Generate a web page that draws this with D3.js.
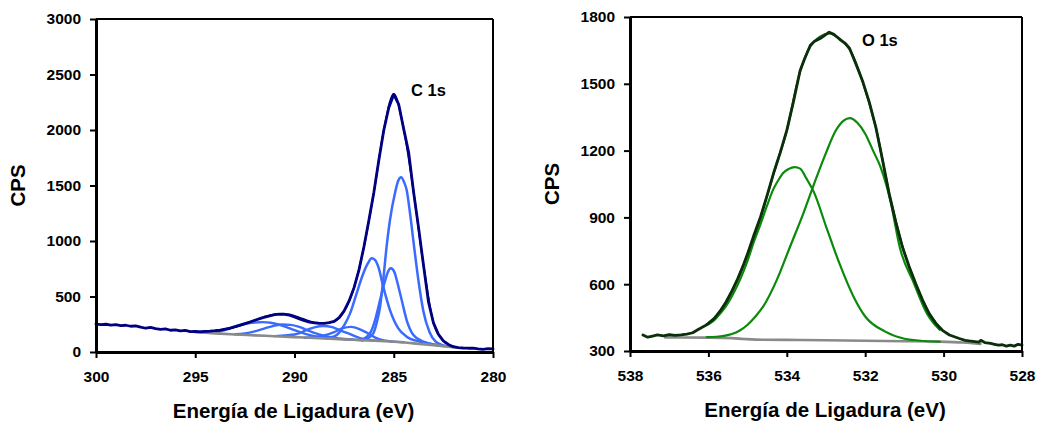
<!DOCTYPE html>
<html><head><meta charset="utf-8">
<script src="https://cdn.jsdelivr.net/npm/d3@7"></script>
<style>
html,body{margin:0;padding:0;background:#fff;}
svg{display:block;}
text{font-family:"Liberation Sans",Arial,Helvetica,sans-serif;font-weight:bold;fill:#000;}
</style></head>
<body>
<svg id="c" width="1037" height="422"></svg>
<script>
// ---------------- C 1s data ----------------
const c1sTicksX = [300, 295, 290, 285, 280];
const c1sTicksY = [0, 500, 1000, 1500, 2000, 2500, 3000];
const c1sRawX = [300.0,299.75,299.5,299.25,299.0,298.75,298.5,298.25,298.0,297.75,297.5,297.25,297.0,296.75,296.5,296.25,296.0,295.75,295.5,295.25,295.0,294.75,294.5,294.25,294.0,293.75,293.5,293.25,293.0,292.75,292.5,292.25,292.0,291.75,291.5,291.25,291.0,290.75,290.5,290.25,290.0,289.75,289.5,289.25,289.0,288.75,288.5,288.25,288.0,287.75,287.5,287.25,287.0,286.75,286.5,286.25,286.0,285.75,285.5,285.25,285.0,284.75,284.5,284.25,284.0,283.75,283.5,283.25,283.0,282.75,282.5,282.25,282.0,281.75,281.5,281.25,281.0,280.75,280.5,280.25,280.0];
const c1sRawY = [252,246,250,243,247,238,241,232,236,224,214,222,210,204,208,196,200,190,194,184,186,182,186,188,192,198,206,216,228,242,256,270,286,300,314,326,336,342,340,332,316,298,282,270,262,258,258,264,276,310,370,460,580,740,950,1190,1440,1730,2000,2200,2320,2230,2010,1800,1440,1120,780,450,262,160,100,68,48,40,36,34,34,28,24,30,28];
const c1sFitX = [295.0,294.0,293.0,292.0,291.5,291.0,290.6,290.2,289.6,289.0,288.5,288.0,287.5,287.0,286.5,286.0,285.5,285.0,284.5,284.0,283.5,283.0,282.5,282.0];
const c1sFitY = [184,190,224,284,318,338,344,336,300,266,260,276,366,582,950,1440,2000,2326,2010,1440,780,262,100,48];
const c1sBgX = [295.0,294.0,293.0,292.0,291.0,290.0,289.0,288.0,287.0,286.0,285.0,284.0,283.0,282.0,281.8];
const c1sBgY = [178,168,158,150,142,134,126,118,110,102,92,78,62,44,40];
const c1sPeakAX = [294.5,294.0,293.5,293.0,292.5,292.0,291.6,291.2,290.8,290.4,290.0,289.5,289.0,288.5,288.0];
const c1sPeakAY = [172,180,198,226,252,266,269,264,248,224,196,166,142,127,119];
const c1sPeakBX = [293.0,292.5,292.0,291.5,291.0,290.6,290.2,289.8,289.4,289.0,288.5,288.0,287.5,287.0];
const c1sPeakBY = [160,168,186,212,238,248,244,228,200,172,146,128,117,111];
const c1sPeakCX = [291.0,290.5,290.0,289.7,289.5,289.0,288.55,288.1,287.7,287.2,286.7,286.2,285.7];
const c1sPeakCY = [143,150,158,172,190,222,234,224,194,160,125,108,100];
const c1sPeakDX = [289.5,289.0,288.5,288.0,287.6,287.15,286.7,286.3,285.9,285.5,285.0,284.5];
const c1sPeakDY = [128,135,150,180,212,226,204,168,128,104,93,88];
const c1sPeakEX = [288.5,288.0,287.75,287.5,287.2,286.87,286.53,286.3,286.11,285.95,285.78,285.53,285.19,284.77,284.35,283.68,283.0,282.5];
const c1sPeakEY = [125,140,175,240,348,529,709,800,844,830,769,589,378,213,138,93,68,55];
const c1sPeakFX = [287.5,286.7,286.2,285.94,285.69,285.44,285.3,285.22,285.14,285.06,284.95,284.85,284.6,284.35,284.01,283.51,282.67];
const c1sPeakFY = [116,108,168,288,468,640,718,745,754,746,712,649,468,288,153,93,60];
const c1sPeakGX = [286.6,286.36,286.03,285.85,285.69,285.53,285.36,285.19,284.94,284.78,284.63,284.48,284.35,284.18,284.01,283.76,283.51,283.2,282.9,282.5,282.0];
const c1sPeakGY = [104,120,168,270,408,649,949,1189,1430,1540,1574,1530,1459,1250,1000,649,370,180,95,60,45];

// ---------------- O 1s data ----------------
const o1sTicksX = [538, 536, 534, 532, 530, 528];
const o1sTicksY = [300, 600, 900, 1200, 1500, 1800];
const o1sRawX = [537.67,537.55,537.45,537.3,537.15,537.0,536.85,536.7,536.55,536.4,536.25,536.1,536.0,535.85,535.7,535.55,535.4,535.25,535.1,535.0,534.85,534.67,534.5,534.34,534.17,534.0,533.83,533.66,533.55,533.4,533.3,533.15,533.05,532.92,532.8,532.65,532.5,532.4,532.25,532.07,531.9,531.73,531.56,531.39,531.22,531.05,530.88,530.71,530.54,530.37,530.2,530.03,529.85,529.6,529.45,529.35,529.2,529.1,529.05,528.95,528.8,528.7,528.6,528.5,528.4,528.3,528.2,528.1,528.0];
const o1sRawY = [372,362,366,372,368,374,370,372,376,382,398,412,424,446,480,520,570,625,690,737,815,902,1000,1097,1190,1291,1420,1560,1610,1673,1690,1703,1715,1732,1722,1700,1680,1660,1595,1514,1420,1306,1160,1007,880,767,680,602,530,468,425,393,372,356,348,345,342,340,348,338,334,330,326,328,322,326,322,330,326];
const o1sFitX = [536.04,535.7,535.4,535.0,534.67,534.34,534.0,533.66,533.4,533.15,532.92,532.65,532.4,532.07,531.73,531.39,531.05,530.71,530.37,530.1];
const o1sFitY = [420,478,566,735,900,1095,1290,1555,1668,1712,1726,1702,1655,1512,1305,1010,770,600,470,400];
const o1sBgX = [537.1,536.04,535.4,535.1,534.8,534.0,533.0,532.0,531.0,530.1,529.5,529.06];
const o1sBgY = [361,360,358,354,351,350,348,346,344,342,338,332];
const o1sPeakAX = [536.04,535.85,535.7,535.55,535.4,535.25,535.1,535.0,534.85,534.67,534.5,534.34,534.17,534.1,533.95,533.8,533.66,533.5,533.3,533.0,532.65,532.3,532.0,531.5,531.0,530.5,530.1];
const o1sPeakAY = [416,438,468,502,546,598,660,706,785,870,955,1028,1080,1098,1118,1126,1119,1075,1010,860,690,545,455,388,355,345,342];
const o1sPeakBX = [536.04,535.8,535.6,535.4,535.2,535.0,534.8,534.6,534.26,533.92,533.58,533.24,533.0,532.75,532.55,532.39,532.2,532.0,531.8,531.62,531.36,531.11,530.77,530.43,530.1];
const o1sPeakBY = [362,364,368,376,392,418,455,500,617,767,917,1081,1190,1290,1335,1346,1325,1276,1200,1131,977,760,610,470,395];

// ---------------- drawing ----------------
const svg = d3.select('#c');

function panel(cfg) {
  const g = svg.append('g');
  const x = d3.scaleLinear().domain(cfg.xDomain).range([cfg.left, cfg.right]);
  const y = d3.scaleLinear().domain(cfg.yDomain).range([cfg.bottom, cfg.top]);
  const zip = (xs, ys) => xs.map((v, i) => [v, ys[i]]);
  const smooth = d3.line().x(d => x(d[0])).y(d => y(d[1])).curve(d3.curveMonotoneX);
  const straight = d3.line().x(d => x(d[0])).y(d => y(d[1]));

  cfg.series.forEach(s => {
    g.append('path')
      .attr('d', (s.smooth ? smooth : straight)(zip(s.x, s.y)))
      .attr('fill', 'none').attr('stroke', s.color).attr('stroke-width', s.w)
      .attr('stroke-linejoin', 'round').attr('stroke-linecap', 'round');
  });

  // frame (top & right)
  g.append('line').attr('x1', cfg.left).attr('x2', cfg.right).attr('y1', cfg.top).attr('y2', cfg.top)
    .attr('stroke', '#000').attr('stroke-width', 2);
  g.append('line').attr('x1', cfg.right).attr('x2', cfg.right).attr('y1', cfg.top).attr('y2', cfg.bottom)
    .attr('stroke', '#000').attr('stroke-width', 2);

  const ax = g.append('g').attr('transform', `translate(0,${cfg.bottom})`)
    .call(d3.axisBottom(x).tickValues(cfg.ticksX).tickSize(6).tickSizeOuter(0).tickPadding(13).tickFormat(d3.format('d')));
  const ay = g.append('g').attr('transform', `translate(${cfg.left},0)`)
    .call(d3.axisLeft(y).tickValues(cfg.ticksY).tickSize(6).tickSizeOuter(0).tickPadding(9).tickFormat(d3.format('d')));
  [ax, ay].forEach(a => {
    a.select('.domain').attr('stroke', '#000').attr('stroke-width', 3);
    a.selectAll('.tick line').attr('stroke', '#000').attr('stroke-width', 2);
    a.selectAll('.tick text').style('font-family', '"Liberation Sans",Arial,sans-serif')
      .style('font-weight', 'bold').style('font-size', '15.5px').attr('fill', '#000');
  });

  g.append('text').attr('transform', `translate(${cfg.yTitleX},${(cfg.top + cfg.bottom) / 2}) rotate(-90)`)
    .attr('text-anchor', 'middle').style('font-size', '20.5px').text('CPS');
  g.append('text').attr('x', (cfg.left + cfg.right) / 2 - 1).attr('y', cfg.xTitleY)
    .attr('text-anchor', 'middle').style('font-size', '20.5px').text('Energía de Ligadura (eV)');
  g.append('text').attr('x', cfg.labelX).attr('y', cfg.labelY)
    .style('font-size', '16.5px').text(cfg.label);
}

const navy = '#000080', blue = '#3a6bff', gray = '#8a8a8a';
panel({
  left: 96, right: 493, top: 19, bottom: 352,
  xDomain: [300, 280], yDomain: [0, 3000],
  ticksX: c1sTicksX, ticksY: c1sTicksY,
  yTitleX: 25, xTitleY: 418, label: 'C 1s', labelX: 411, labelY: 96,
  series: [
    {x: c1sPeakAX, y: c1sPeakAY, color: blue, w: 2.4, smooth: true},
    {x: c1sPeakBX, y: c1sPeakBY, color: blue, w: 2.4, smooth: true},
    {x: c1sPeakCX, y: c1sPeakCY, color: blue, w: 2.4, smooth: true},
    {x: c1sPeakDX, y: c1sPeakDY, color: blue, w: 2.4, smooth: true},
    {x: c1sPeakEX, y: c1sPeakEY, color: blue, w: 2.5, smooth: true},
    {x: c1sPeakFX, y: c1sPeakFY, color: blue, w: 2.5, smooth: true},
    {x: c1sPeakGX, y: c1sPeakGY, color: blue, w: 2.5, smooth: true},
    {x: c1sBgX, y: c1sBgY, color: gray, w: 2.6, smooth: true},
    {x: c1sFitX, y: c1sFitY, color: navy, w: 1.8, smooth: true},
    {x: c1sRawX, y: c1sRawY, color: navy, w: 2.8, smooth: false}
  ]
});

const green = '#0a8a0a', dark = '#0b2e0b', fitG = '#1d5a1d';
panel({
  left: 630, right: 1022, top: 17, bottom: 351,
  xDomain: [538, 528], yDomain: [300, 1800],
  ticksX: o1sTicksX, ticksY: o1sTicksY,
  yTitleX: 559, xTitleY: 417, label: 'O 1s', labelX: 862, labelY: 46,
  series: [
    {x: o1sBgX, y: o1sBgY, color: gray, w: 2.6, smooth: true},
    {x: o1sPeakAX, y: o1sPeakAY, color: green, w: 2.2, smooth: true},
    {x: o1sPeakBX, y: o1sPeakBY, color: green, w: 2.2, smooth: true},
    {x: o1sFitX, y: o1sFitY, color: fitG, w: 2.2, smooth: true},
    {x: o1sRawX, y: o1sRawY, color: dark, w: 2.8, smooth: false}
  ]
});
</script>
</body></html>
